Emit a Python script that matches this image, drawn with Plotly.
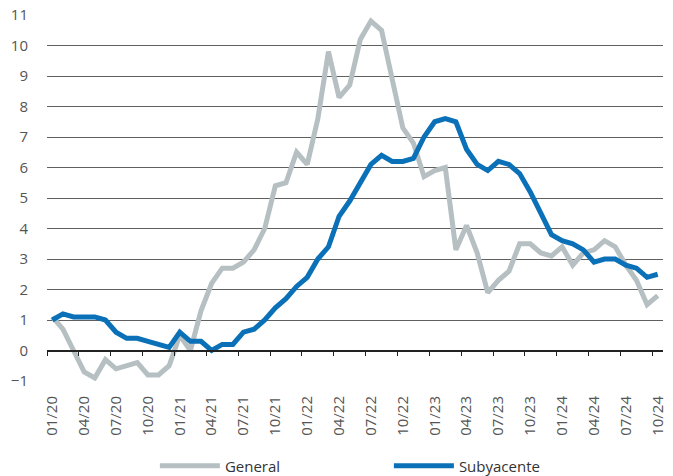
import plotly.graph_objects as go

months = [f"{m:02d}/{y:02d}" for y in range(20, 25) for m in range(1, 13)][:58]

general = [1.1, 0.7, 0.0, -0.7, -0.9, -0.3, -0.6, -0.5, -0.4, -0.8, -0.8, -0.5,
           0.5, 0.0, 1.3, 2.2, 2.7, 2.7, 2.9, 3.3, 4.0, 5.4, 5.5, 6.5,
           6.1, 7.6, 9.8, 8.3, 8.7, 10.2, 10.8, 10.5, 8.9, 7.3, 6.8, 5.7,
           5.9, 6.0, 3.3, 4.1, 3.2, 1.9, 2.3, 2.6, 3.5, 3.5, 3.2, 3.1,
           3.4, 2.8, 3.2, 3.3, 3.6, 3.4, 2.8, 2.3, 1.5, 1.8]

subyacente = [1.0, 1.2, 1.1, 1.1, 1.1, 1.0, 0.6, 0.4, 0.4, 0.3, 0.2, 0.1,
              0.6, 0.3, 0.3, 0.0, 0.2, 0.2, 0.6, 0.7, 1.0, 1.4, 1.7, 2.1,
              2.4, 3.0, 3.4, 4.4, 4.9, 5.5, 6.1, 6.4, 6.2, 6.2, 6.3, 7.0,
              7.5, 7.6, 7.5, 6.6, 6.1, 5.9, 6.2, 6.1, 5.8, 5.2, 4.5, 3.8,
              3.6, 3.5, 3.3, 2.9, 3.0, 3.0, 2.8, 2.7, 2.4, 2.5]

y_ticks = list(range(-1, 12))
y_min, y_max = -1, 11

idx = list(range(len(months)))
label_idx = idx[::3]
label_txt = [months[i] for i in label_idx]
boundary_ticks = [i - 0.5 for i in label_idx]

GRAY = "#b6bfc1"
BLUE = "#0a70b7"
TXT = "#555555"
FONT = "Open Sans"

fig = go.Figure()
fig.add_trace(go.Scatter(x=idx, y=general, mode="lines", name="General",
                         line=dict(color=GRAY, width=5)))
fig.add_trace(go.Scatter(x=idx, y=subyacente, mode="lines", name="Subyacente",
                         line=dict(color=BLUE, width=5)))
# invisible trace to activate xaxis2 (tick marks on zero line)
fig.add_trace(go.Scatter(x=[idx[0]], y=[0], xaxis="x2", mode="lines",
                         showlegend=False, hoverinfo="skip",
                         line=dict(color="rgba(0,0,0,0)")))

xr = [-0.5, len(months) - 0.5]
zero_pos = (0 - y_min) / (y_max - y_min)

fig.update_layout(
    width=673, height=476,
    margin=dict(l=47, r=10, t=15, b=95, autoexpand=False),
    paper_bgcolor="white", plot_bgcolor="white",
    font=dict(family=FONT, size=15, color=TXT),
    showlegend=True,
    hovermode=False,
    legend=dict(orientation="h", x=0.555, xanchor="center", y=-0.232, yanchor="middle",
                font=dict(family=FONT, size=15, color="#333333"),
                itemwidth=60, entrywidth=159, traceorder="normal"),
    xaxis=dict(range=xr, tickmode="array", tickvals=label_idx, ticktext=label_txt,
               tickangle=-90, showgrid=False, zeroline=False, showline=False,
               ticks="outside", ticklen=8, tickcolor="rgba(0,0,0,0)", automargin=False,
               tickfont=dict(family=FONT, size=15, color=TXT)),
    xaxis2=dict(range=xr, overlaying="x", anchor="free", position=zero_pos,
                side="bottom", tickmode="array", tickvals=boundary_ticks,
                showticklabels=False, ticks="outside", ticklen=5, tickwidth=1.3,
                tickcolor="#222222", showline=True, linecolor="#222222", linewidth=1.5,
                showgrid=False, zeroline=False),
    yaxis=dict(range=[y_min, y_max], tickmode="array", tickvals=y_ticks,
               showgrid=True, gridcolor="#606060", gridwidth=1.3,
               zeroline=False, showline=False, automargin=False,
               ticks="outside", ticklen=15, tickcolor="rgba(0,0,0,0)",
               tickfont=dict(family=FONT, size=15, color=TXT)),
)

# remove the default 8px page margin so the figure fills the window exactly
fig.write_html("out.html", config={"displayModeBar": False},
               post_script="document.body.style.margin='0';")
